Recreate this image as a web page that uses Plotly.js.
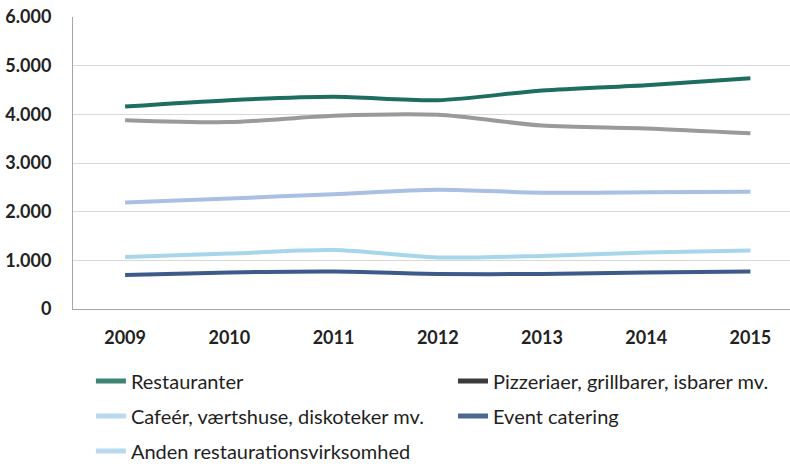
<!DOCTYPE html>
<html>
<head>
<meta charset="utf-8">
<script src="https://cdn.plot.ly/plotly-3.0.1.min.js"></script>
<style>
  html, body { margin: 0; padding: 0; background: #fff; }
  #chart { width: 790px; height: 466px; }
</style>
</head>
<body>
<div id="chart"></div>
<script>
// Years on the x axis
const years = [2009, 2010, 2011, 2012, 2013, 2014, 2015];

// Series values
const restauranter = [4160, 4290, 4360, 4290, 4490, 4600, 4740];
const pizzeriaer = [3880, 3840, 3970, 3990, 3770, 3710, 3610];
const cafeer = [1070, 1140, 1210, 1060, 1090, 1160, 1200];
const eventCatering = [700, 750, 770, 720, 720, 750, 770];
const andenRestauration = [2190, 2270, 2360, 2450, 2390, 2400, 2410];

// Series names (legend text)
const names = [
  "Restauranter",
  "Pizzeriaer, grillbarer, isbarer mv.",
  "Cafeér, værtshuse, diskoteker mv.",
  "Event catering",
  "Anden restaurationsvirksomhed"
];

const yTicks = [0, 1000, 2000, 3000, 4000, 5000, 6000];

const seriesValues = [restauranter, pizzeriaer, cafeer, eventCatering, andenRestauration];
const lineColors = ["#1e6e5f", "#9a9a9a", "#a6d6ea", "#3d5a8a", "#aabfe4"];
// the legend swatches in the picture use slightly different colours
const legendColors = ["#3e8476", "#3b3b3b", "#b9d9ee", "#4a6891", "#b9d9ee"];
const legendSlot = ["legend", "legend2", "legend", "legend2", "legend"];

const traces = [];

// Real lines, hidden from the legend
seriesValues.forEach((vals, i) => {
  traces.push({
    x: years,
    y: vals,
    type: "scatter",
    mode: "lines",
    name: names[i],
    showlegend: false,
    line: { color: lineColors[i], width: 4, shape: "spline", smoothing: 0.8 },
    hoverinfo: "x+y+name"
  });
});

// Legend entries
names.forEach((n, i) => {
  traces.push({
    x: [null],
    y: [null],
    type: "scatter",
    mode: "lines",
    name: n,
    legend: legendSlot[i],
    legendgroup: "g" + i,
    line: { color: legendColors[i], width: 5 },
    hoverinfo: "skip"
  });
});

const legendFont = { family: "Lato, 'Open Sans', sans-serif", size: 20, color: "#1f1f1f" };
const tickFont = { family: "Lato, 'Open Sans', sans-serif", size: 18, color: "#222", weight: "bold" };

const layout = {
  width: 790,
  height: 466,
  margin: { l: 73, r: 0, t: 17, b: 157 },
  paper_bgcolor: "#ffffff",
  plot_bgcolor: "#ffffff",
  separators: ",.",
  font: { family: "Lato, 'Open Sans', sans-serif", color: "#222" },
  xaxis: {
    range: [2008.5, 2015.38],
    tickvals: years,
    ticktext: years.map(String),
    showgrid: false,
    showline: true,
    linecolor: "#a6a6a6",
    linewidth: 1,
    ticks: "",
    ticklabelstandoff: 12,
    tickfont: tickFont,
    zeroline: false,
    fixedrange: true
  },
  yaxis: {
    range: [0, 6000],
    tickvals: yTicks,
    tickformat: ",d",
    showgrid: true,
    gridcolor: "#d9d9d9",
    gridwidth: 1,
    showline: true,
    linecolor: "#a6a6a6",
    linewidth: 1,
    ticks: "",
    ticklabelstandoff: 17,
    tickfont: tickFont,
    zeroline: false,
    fixedrange: true
  },
  legend: {
    orientation: "v",
    x: 0.025,
    xanchor: "left",
    yref: "container",
    y: 0.224,
    yanchor: "top",
    tracegroupgap: 6,
    font: legendFont,
    bgcolor: "rgba(0,0,0,0)"
  },
  legend2: {
    orientation: "v",
    x: 0.53,
    xanchor: "left",
    yref: "container",
    y: 0.224,
    yanchor: "top",
    tracegroupgap: 6,
    font: legendFont,
    bgcolor: "rgba(0,0,0,0)"
  },
  showlegend: true
};

Plotly.newPlot("chart", traces, layout, { displayModeBar: false, staticPlot: true });
</script>
</body>
</html>
